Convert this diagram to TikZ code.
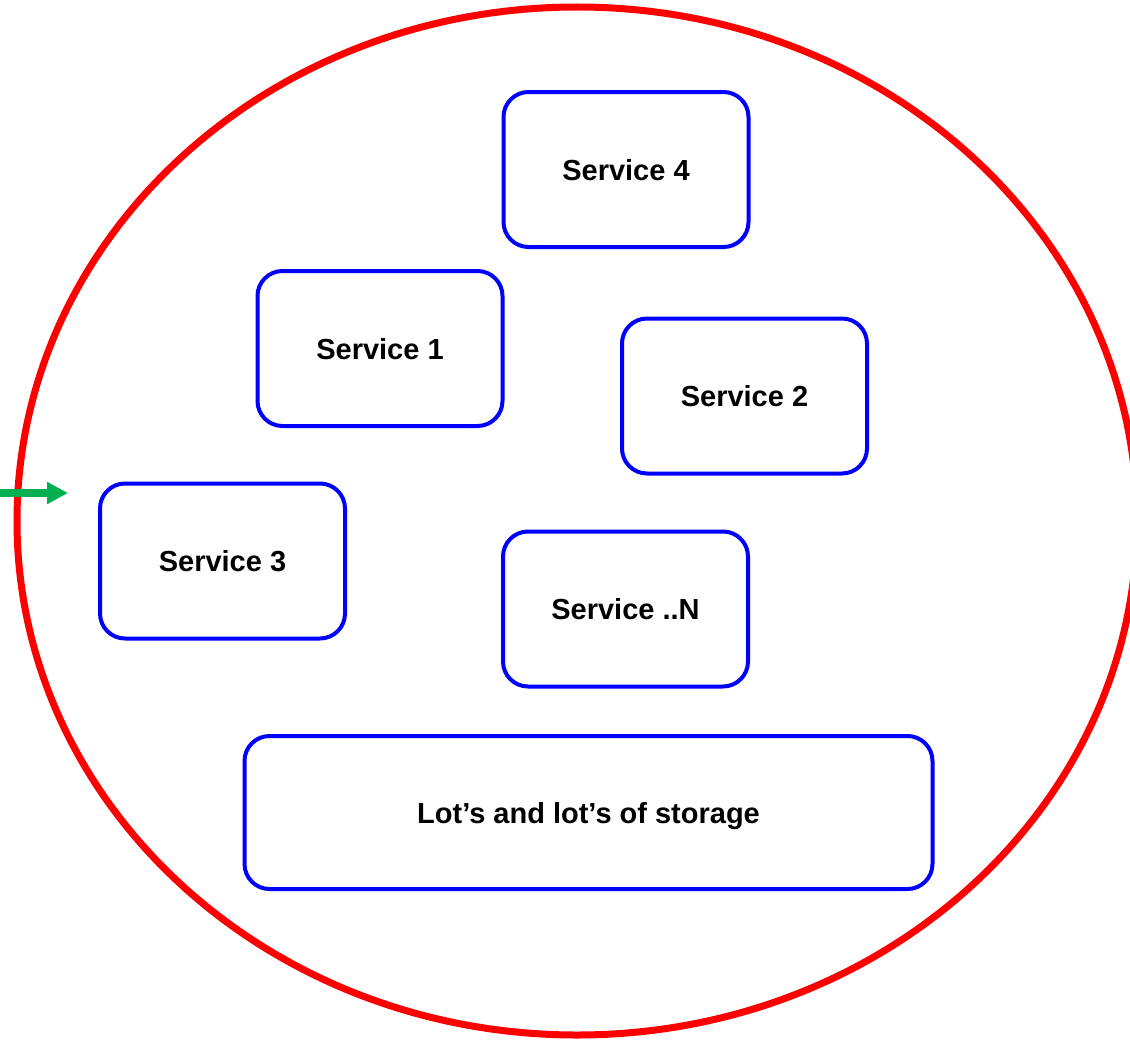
\documentclass[tikz,border=0pt]{standalone}
\usepackage{fontspec}
\setmainfont{Liberation Sans}
\usetikzlibrary{arrows.meta}
\definecolor{boxblue}{RGB}{0,0,255}
\definecolor{ringred}{RGB}{255,0,0}
\definecolor{arrowgreen}{RGB}{0,176,80}
\begin{document}
\begin{tikzpicture}[x=1pt,y=-1pt,
  svc/.style={draw=boxblue, line width=4pt, rounded corners=25pt, rectangle,
    minimum width=245pt, minimum height=155pt, inner sep=0pt, text depth=0pt,
    font=\fontsize{29}{34}\selectfont\bfseries},
  ring/.style={draw=ringred, line width=7pt},
  feed/.style={draw=arrowgreen, line width=8pt,
    -{Triangle[length=21pt,width=21pt]}}]
\useasboundingbox (0,0) rectangle (1130,1041);
\draw[ring] (577,521) ellipse [x radius=560pt, y radius=514pt];
\node[svc] (s4) at (626,169.5) {Service 4};
\node[svc] (s1) at (380,348.5) {Service 1};
\node[svc] (s2) at (744.5,396) {Service 2};
\node[svc] (s3) at (222.5,561) {Service 3};
\node[svc] (sn) at (625.5,609) {Service ..N};
\node[svc, minimum width=688pt, minimum height=153pt] (st) at (588.5,812.5) {Lot’s and lot’s of storage};
\coordinate (ain) at (0,493);
\coordinate (aout) at (68,493);
\draw[feed] (ain) -- (aout);
\end{tikzpicture}
\end{document}
